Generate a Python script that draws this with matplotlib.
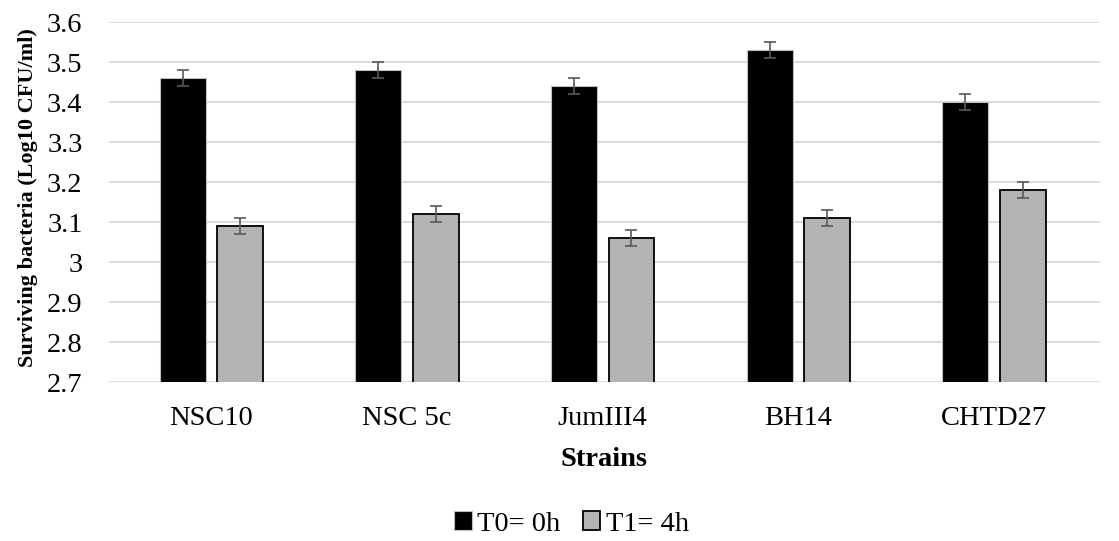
import numpy as np
import matplotlib.pyplot as plt

plt.rcParams['font.family'] = ['Liberation Serif', 'DejaVu Serif']

strains = ["NSC10", "NSC 5c", "JumIII4", "BH14", "CHTD27"]
t0 = [3.46, 3.48, 3.44, 3.53, 3.40]
t1 = [3.09, 3.12, 3.06, 3.11, 3.18]
t0_err = [0.02, 0.02, 0.02, 0.02, 0.02]
t1_err = [0.02, 0.02, 0.02, 0.02, 0.02]

fig = plt.figure(figsize=(11.19, 5.41), dpi=100)
ax = fig.add_axes([109 / 1119, 1 - 382 / 541, 991 / 1119, 360 / 541])

x = np.arange(len(strains))
w = 0.235
off = 0.147
err_kw = dict(ecolor="#595959", elinewidth=1.2, capsize=4.3, capthick=1.2)
ax.bar(x - off, t0, w, color="black", edgecolor="#bfbfbf", linewidth=0.8,
       yerr=t0_err, error_kw=err_kw, label="T0= 0h", zorder=3)
ax.bar(x + off, t1, w, color="#b3b3b3", edgecolor="black", linewidth=1.3,
       yerr=t1_err, error_kw=err_kw, label="T1= 4h", zorder=3)

ax.set_ylim(2.7, 3.6)
ax.set_xlim(-0.524, 4.542)
yt = np.round(np.arange(2.7, 3.61, 0.1), 1)
ax.set_yticks(yt)
ax.set_yticklabels([f"{v:g}" for v in yt])
ax.set_xticks(x)
ax.set_xticklabels(strains)
ax.tick_params(axis="both", length=0, labelsize=20.5)
ax.tick_params(axis="y", pad=19)
ax.tick_params(axis="x", pad=17.5)
ax.grid(axis="y", color="#d9d9d9", linewidth=1.3, zorder=0)
for s in ax.spines.values():
    s.set_visible(False)

ax.set_xlabel("Strains", fontsize=20.5, fontweight="bold", labelpad=11)
ax.set_ylabel("Surviving bacteria (Log10 CFU/ml)", fontsize=16, fontweight="bold")
ax.yaxis.set_label_coords(-0.0716, 0.512)

fig.legend(loc="center", bbox_to_anchor=(0.511, 1 - 524 / 541), ncol=2, frameon=False,
           fontsize=20.5, handlelength=0.6, handleheight=0.6, handletextpad=0.2,
           columnspacing=0.8, borderpad=0)

fig.savefig("out.png", dpi=100)
